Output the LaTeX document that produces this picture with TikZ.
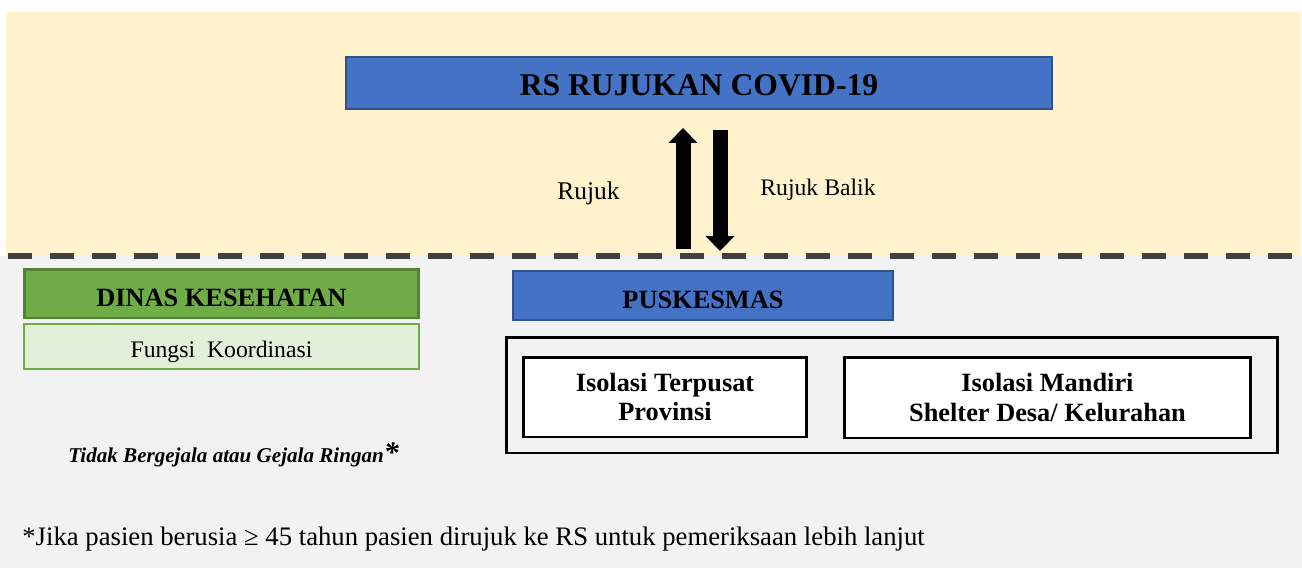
\documentclass[tikz,border=0pt]{standalone}
\usepackage{fontspec}
\setmainfont{Liberation Serif}
\usetikzlibrary{arrows.meta}

\definecolor{creambg}{HTML}{FFF2CC}
\definecolor{greybg}{HTML}{F2F2F2}
\definecolor{rsblue}{HTML}{4472C4}
\definecolor{rsblueline}{HTML}{2F528F}
\definecolor{dinasgreen}{HTML}{70AD47}
\definecolor{dinasgreenline}{HTML}{548235}
\definecolor{fungsigreen}{HTML}{E2F0D9}
\definecolor{dashgrey}{HTML}{404040}

\begin{document}
\begin{tikzpicture}[x=0.02cm,y=-0.02cm,
  bluebox/.style={draw=rsblueline,fill=rsblue,line width=1.2pt,text height=0.5cm,text depth=0pt,
    font=\bfseries\fontsize{15}{17}\selectfont},
  greenbox/.style={draw=dinasgreenline,fill=dinasgreen,line width=1.7pt,text height=0.5cm,text depth=0pt,
    font=\bfseries\fontsize{15}{17}\selectfont},
  lightbox/.style={draw=dinasgreen,fill=fungsigreen,line width=1.5pt},
  isobox/.style={draw=black,fill=white,line width=1.7pt,align=center,
    font=\bfseries\fontsize{15}{17}\selectfont},
  lbl/.style={inner sep=0pt},
  blockarrow/.style={line width=0.3cm,line cap=butt,
    -{Triangle[width=0.58cm,length=0.3cm,line width=0pt]}}]

\useasboundingbox (0,0) rectangle (1302,568);
\fill[white] (0,0) rectangle (1302,568);
\fill[creambg] (6,12) rectangle (1301,256);
\fill[greybg] (0,256) rectangle (1302,568);
\draw[dashgrey, line width=0.12cm, dash pattern=on 0.48cm off 0.36cm] (8,255.5) -- (1302,255.5);

% rumah sakit rujukan
\node[bluebox, minimum width=14.12cm, minimum height=1.04cm, text height=0.52cm,
  font=\bfseries\fontsize{18}{20}\selectfont] (rs) at (699,83) {RS RUJUKAN COVID-19};

\coordinate (rujukfoot) at (683,249);
\coordinate (rujuktip) at (683,128);
\coordinate (balikfoot) at (720,130);
\coordinate (baliktip) at (720,251);
\draw[blockarrow] (rujukfoot) -- (rujuktip);
\draw[blockarrow] (balikfoot) -- (baliktip);

\node[lbl, anchor=base west, font=\fontsize{14.5}{16}\selectfont] (rujuk) at (557,199) {Rujuk};
\node[lbl, anchor=base west, font=\fontsize{13.5}{15}\selectfont] (balik) at (760,195) {Rujuk Balik};

% dinas kesehatan
\node[greenbox, minimum width=7.9cm, minimum height=0.98cm] (dinas) at (221.5,293.5) {DINAS KESEHATAN};
\node[lightbox, minimum width=7.9cm, minimum height=0.9cm] (fungsi) at (221.5,346.5) {};
\node[lbl, anchor=base, font=\fontsize{13.5}{15}\selectfont] (fungsilabel) at (221.5,357) {Fungsi\ \ Koordinasi};

% puskesmas
\node[bluebox, minimum width=7.6cm, minimum height=0.98cm] (puskesmas) at (703,295.5) {PUSKESMAS};
\node[draw=black, line width=1.7pt, minimum width=15.44cm, minimum height=2.32cm] (isolasi) at (892,395) {};
\node[isobox, minimum width=5.68cm, minimum height=1.6cm] (terpusat) at (665,397) {Isolasi Terpusat\\Provinsi};
\node[isobox, minimum width=8.14cm, minimum height=1.62cm] (mandiri) at (1047.5,397.5) {Isolasi Mandiri\\Shelter Desa/ Kelurahan};

\node[lbl, anchor=base west, font=\bfseries\itshape\fontsize{12}{14}\selectfont] (gejala) at (68,462)
  {Tidak Bergejala atau Gejala Ringan{\fontsize{17}{17}\selectfont*}};
\node[lbl, anchor=base west, font=\fontsize{15.2}{17}\selectfont] (catatan) at (22,545)
  {*Jika pasien berusia ≥ 45 tahun pasien dirujuk ke RS untuk pemeriksaan lebih lanjut};
\end{tikzpicture}
\end{document}
